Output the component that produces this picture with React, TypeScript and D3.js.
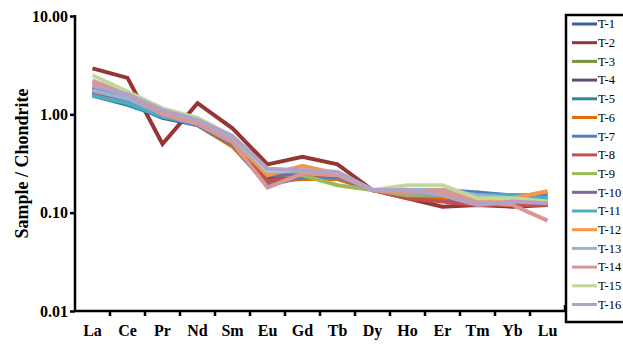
import React, { useEffect, useRef } from "react";
import * as d3 from "d3";

// REE chondrite-normalised data
const elements = ["La", "Ce", "Pr", "Nd", "Sm", "Eu", "Gd", "Tb", "Dy", "Ho", "Er", "Tm", "Yb", "Lu"];
const sampleNames = ["T-1", "T-2", "T-3", "T-4", "T-5", "T-6", "T-7", "T-8", "T-9", "T-10", "T-11", "T-12", "T-13", "T-14", "T-15", "T-16"];
const colors = ["#3F5F96", "#943634", "#76923C", "#5F497A", "#31859C", "#E36C09", "#4F81BD", "#C0504D",
  "#9BBB59", "#8064A2", "#4BACC6", "#F79646", "#95B3D7", "#D99694", "#C3D69B", "#B2A2C7"];
const yTicks = [0.01, 0.1, 1, 10];

const t1 = [1.6, 1.3, 0.92, 0.78, 0.48, 0.19, 0.23, 0.23, 0.17, 0.16, 0.15, 0.15, 0.14, 0.13];
const t2 = [2.93, 2.35, 0.5, 1.3, 0.72, 0.31, 0.37, 0.31, 0.17, 0.14, 0.115, 0.12, 0.115, 0.12];
const t3 = [1.75, 1.4, 1.0, 0.85, 0.52, 0.22, 0.24, 0.24, 0.17, 0.15, 0.14, 0.13, 0.13, 0.13];
const t4 = [1.85, 1.45, 0.98, 0.8, 0.5, 0.22, 0.23, 0.23, 0.17, 0.15, 0.14, 0.14, 0.13, 0.125];
const t5 = [1.55, 1.25, 0.95, 0.8, 0.5, 0.24, 0.25, 0.24, 0.17, 0.16, 0.14, 0.15, 0.14, 0.14];
const t6 = [1.9, 1.5, 1.05, 0.78, 0.47, 0.21, 0.22, 0.22, 0.17, 0.15, 0.14, 0.16, 0.13, 0.16];
const t7 = [1.7, 1.35, 0.95, 0.78, 0.5, 0.2, 0.23, 0.23, 0.17, 0.16, 0.17, 0.16, 0.15, 0.15];
const t8 = [1.65, 1.4, 0.97, 0.82, 0.52, 0.21, 0.24, 0.24, 0.17, 0.14, 0.13, 0.12, 0.12, 0.12];
const t9 = [1.8, 1.45, 1.08, 0.9, 0.58, 0.25, 0.24, 0.19, 0.17, 0.15, 0.15, 0.14, 0.14, 0.13];
const t10 = [1.9, 1.5, 1.0, 0.82, 0.55, 0.24, 0.25, 0.24, 0.17, 0.16, 0.16, 0.15, 0.14, 0.13];
const t11 = [1.55, 1.3, 0.95, 0.8, 0.52, 0.26, 0.26, 0.25, 0.17, 0.16, 0.15, 0.15, 0.15, 0.14];
const t12 = [2.1, 1.55, 1.12, 0.85, 0.55, 0.24, 0.3, 0.25, 0.17, 0.16, 0.16, 0.13, 0.14, 0.165];
const t13 = [1.75, 1.45, 1.02, 0.85, 0.57, 0.26, 0.27, 0.25, 0.17, 0.17, 0.17, 0.15, 0.14, 0.13];
const t14 = [2.2, 1.6, 1.0, 0.8, 0.52, 0.18, 0.25, 0.24, 0.17, 0.16, 0.17, 0.13, 0.12, 0.083];
const t15 = [2.5, 1.7, 1.15, 0.92, 0.6, 0.27, 0.27, 0.26, 0.17, 0.19, 0.19, 0.14, 0.14, 0.13];
const t16 = [1.95, 1.6, 1.1, 0.88, 0.6, 0.28, 0.27, 0.26, 0.17, 0.17, 0.15, 0.12, 0.13, 0.125];
const seriesValues = [t1, t2, t3, t4, t5, t6, t7, t8, t9, t10, t11, t12, t13, t14, t15, t16];

export default function App() {
  const ref = useRef<SVGSVGElement>(null);

  useEffect(() => {
    const svg = d3.select(ref.current);
    svg.selectAll("*").remove();

    const left = 75, right = 565, top = 16, bottom = 311;
    const x = d3.scaleBand().domain(elements).range([left, right]);
    const y = d3.scaleLog().domain([0.01, 10]).range([bottom, top]);

    // lines
    const line = d3.line<number>()
      .x((d, i) => x(elements[i])! + x.bandwidth() / 2)
      .y(d => y(d));

    svg.append("g")
      .selectAll("path")
      .data(seriesValues)
      .enter().append("path")
      .attr("d", d => line(d))
      .attr("fill", "none")
      .attr("stroke", (d, i) => colors[i])
      .attr("stroke-width", 4)
      .attr("stroke-linejoin", "miter");

    // y axis
    const yAxis = svg.append("g")
      .attr("transform", "translate(" + left + ",0)")
      .call(d3.axisLeft(y).tickValues(yTicks).tickFormat(d3.format(".2f")).tickSizeOuter(0).tickSize(5));
    yAxis.select(".domain").attr("stroke-width", 2.5).attr("d", "M0," + (top - 1) + "V" + (bottom + 1));
    yAxis.selectAll(".tick line").attr("stroke-width", 2.5);
    yAxis.selectAll(".tick text")
      .attr("font-family", null).attr("font-size", null)
      .style("font-family", "Liberation Serif").style("font-weight", "bold").style("font-size", "16px")
      .attr("fill", "#000").attr("x", -7);

    // x axis, ticks on category boundaries
    const xg = svg.append("g").attr("transform", "translate(0," + bottom + ")");
    xg.append("line").attr("x1", left).attr("x2", right).attr("stroke", "#000").attr("stroke-width", 2.5);
    xg.append("line").attr("x1", right).attr("x2", right).attr("y1", 1).attr("y2", -6).attr("stroke", "#000").attr("stroke-width", 2.5);
    xg.selectAll(".xt")
      .data(elements.slice(1))
      .enter().append("line")
      .attr("x1", d => x(d)!).attr("x2", d => x(d)!)
      .attr("y1", 0).attr("y2", 5)
      .attr("stroke", "#000").attr("stroke-width", 2.5);
    xg.selectAll(".xl")
      .data(elements)
      .enter().append("text")
      .attr("x", d => x(d)! + x.bandwidth() / 2)
      .attr("y", 25)
      .attr("text-anchor", "middle")
      .style("font-family", "Liberation Serif").style("font-weight", "bold").style("font-size", "16px")
      .text(d => d);

    // y title
    svg.append("text")
      .attr("transform", "translate(28," + (top + bottom) / 2 + ") rotate(-90)")
      .attr("text-anchor", "middle")
      .style("font-family", "Liberation Serif").style("font-weight", "bold").style("font-size", "18px")
      .text("Sample / Chondrite");

    // legend
    const lg = svg.append("g");
    lg.append("rect")
      .attr("x", 566).attr("y", 15).attr("width", 80).attr("height", 307)
      .attr("fill", "#fff").attr("stroke", "#000").attr("stroke-width", 2.5);
    const item = lg.selectAll(".li")
      .data(sampleNames)
      .enter().append("g")
      .attr("transform", (d, i) => "translate(0," + (24 + i * 18.7) + ")");
    item.append("line")
      .attr("x1", 572).attr("x2", 597)
      .attr("stroke", (d, i) => colors[i]).attr("stroke-width", 3);
    item.append("text")
      .attr("x", 598).attr("dy", "0.35em")
      .style("font-family", "Liberation Serif").style("font-size", "12.5px")
      .text(d => d);
  }, []);

  return (
    <svg ref={ref} width={623} height={344} style={{ position: "absolute", left: 0, top: 0 }}></svg>
  );
}
